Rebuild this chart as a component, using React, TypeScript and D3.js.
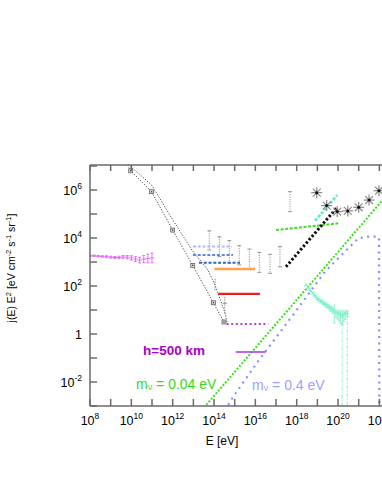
import React from 'react';
import * as d3 from 'd3';

// all values are log10 exponents
const purpleLogE = [8.0, 8.2, 8.4, 8.6, 8.8, 9.0, 9.2, 9.4, 9.6, 9.8, 10.0, 10.2, 10.4, 10.6, 10.8, 11.0];
const purpleLogJ = [3.26, 3.26, 3.24, 3.23, 3.22, 3.2, 3.19, 3.19, 3.21, 3.2, 3.17, 3.12, 3.08, 3.12, 3.15, 3.17];
const purpleErr = [0.03, 0.03, 0.03, 0.03, 0.04, 0.04, 0.04, 0.05, 0.06, 0.07, 0.09, 0.1, 0.12, 0.15, 0.18, 0.2];

const lineALogE = [9.7, 9.97, 10.98, 12.0, 12.97, 13.97, 14.48];
const lineALogJ = [7.25, 6.8, 5.93, 4.33, 2.86, 1.3, 0.5];
const lineBLogE = [9.75, 9.94, 10.98, 11.95, 12.93, 13.7, 14.05, 14.53, 14.63];
const lineBLogJ = [7.15, 7.0, 6.21, 4.83, 3.5, 2.67, 2.04, 0.88, 0.46];

const greyLogE = [13.77, 14.26, 14.74, 15.22, 15.71, 16.19, 16.71, 17.19, 17.68];
const greyHi = [4.3, 4.05, 3.89, 3.68, 3.54, 3.4, 3.32, 3.64, 5.93];
const greyLo = [3.5, 3.22, 2.96, 2.88, 2.71, 2.57, 2.53, 2.8, 5.1];

const bandRows = [
  { e0: 12.98, e1: 14.87, j: 3.65, color: '#b8b8f4' },
  { e0: 12.98, e1: 14.92, j: 3.29, color: '#6088e0' },
  { e0: 13.27, e1: 15.26, j: 2.97, color: '#3362c8' },
];

const orangeE = [14.02, 15.99];
const orangeJ = 2.71;
const redE = [14.2, 16.22];
const redJ = 1.67;
const purpleDotE = [14.61, 16.63];
const purpleDotJ = 0.42;
const purpleSolidE = [15.05, 16.5];
const purpleSolidJ = -0.75;

const blackDotE = [17.48, 19.96];
const blackDotJ = [2.8, 5.28];
const greenDashE = [17.0, 20.01];
const greenDashJ = [4.33, 4.61];
const cyanE = [18.89, 19.96];
const cyanJ = [4.72, 5.79];

const starLogE = [18.97, 19.45, 19.96, 20.47, 21.0, 21.5, 21.98];
const starLogJ = [5.89, 5.35, 5.1, 5.13, 5.28, 5.58, 5.97];

const greenModelE = [13.4, 22.6];
const greenModelJ = [-3.18, 6.02];
const lavModelE = [14.69, 14.93, 16.14, 17.76, 19.37, 20.98, 21.63, 21.98, 22.0];
const lavModelJ = [-2.96, -2.61, -1.13, 0.72, 2.6, 3.99, 4.08, 4.02, -3.5];

const aquaLogE = [18.45, 18.55, 18.62, 18.7, 18.78, 18.85, 18.93, 19.0, 19.08, 19.15, 19.22, 19.3, 19.38, 19.45, 19.52, 19.6, 19.68, 19.75, 19.82, 19.9, 19.98, 20.05, 20.12, 20.2, 20.28, 20.35, 20.45];
const aquaLogJ = [2.05, 1.95, 1.88, 1.8, 1.72, 1.64, 1.57, 1.5, 1.45, 1.4, 1.36, 1.31, 1.27, 1.22, 1.18, 1.12, 1.08, 1.02, 0.96, 0.9, 0.87, 0.84, 0.8, 0.78, 0.82, 0.86, 0.9];
const aquaErr = [0.04, 0.04, 0.05, 0.05, 0.05, 0.06, 0.06, 0.06, 0.07, 0.07, 0.08, 0.08, 0.09, 0.1, 0.1, 0.12, 0.13, 0.15, 0.5, 0.2, 0.25, 0.3, 0.35, 0.4, 0.3, 0.25, 0.2];
const aquaDropE = [20.2, 20.45];
const aquaDropTop = [0.8, 0.86];

const xLabelExp = [8, 10, 12, 14, 16, 18, 20, 22];
const yLabelExp = [-2, 0, 2, 4, 6];

const W = 382;
const H = 494;
const left = 90;
const top = 165;
const bottom = 406;

const x = d3.scaleLog().domain([1e8, 1e24]).range([left, left + 16 * 20.67]);
const y = d3.scaleLog().domain([1e-3, 1e7]).range([bottom, 166]);
const px = (e: number) => x(Math.pow(10, e));
const py = (j: number) => y(Math.pow(10, j));

const font = '"Liberation Sans", Arial, sans-serif';

const pathOf = (es: number[], js: number[]) =>
  d3.line<number>().x((_, i) => px(es[i])).y((_, i) => py(js[i]))(es) || '';

function Star({ cx, cy }: { cx: number; cy: number }) {
  const r = 5.5;
  const d = r * 0.72;
  return (
    <g stroke="#8a8a8a" strokeWidth={1.2}>
      <line x1={cx - r} y1={cy} x2={cx + r} y2={cy} />
      <line x1={cx} y1={cy - r} x2={cx} y2={cy + r} />
      <line x1={cx - d} y1={cy - d} x2={cx + d} y2={cy + d} />
      <line x1={cx - d} y1={cy + d} x2={cx + d} y2={cy - d} />
      <circle cx={cx} cy={cy} r={1.5} fill="#111" stroke="none" />
    </g>
  );
}

export default function App() {
  const xTickExp = d3.range(8, 24);
  const yTickExp = d3.range(-3, 8);
  return (
    <svg width={W} height={H} style={{ position: 'absolute', left: 0, top: 0, background: '#fff' }}>
      <defs>
        <clipPath id="plot">
          <rect x={left} y={top} width={W - left} height={bottom - top} />
        </clipPath>
      </defs>

      <g clipPath="url(#plot)">
        {/* neutrino model lines */}
        <path d={pathOf(greenModelE, greenModelJ)} fill="none" stroke="#3ae01c" strokeWidth={2} strokeDasharray="2,1.6" />
        <path d={pathOf(lavModelE, lavModelJ)} fill="none" stroke="#8c8cff" strokeWidth={2.2} strokeDasharray="2,4.5" />

        {/* purple low-energy data */}
        {purpleLogE.map((e, i) => {
          const cx = px(e);
          const cy = py(purpleLogJ[i]);
          const y0 = py(purpleLogJ[i] + purpleErr[i]);
          const y1 = py(purpleLogJ[i] - purpleErr[i]);
          return (
            <g key={'p' + i} stroke="#dc66ee" strokeWidth={0.9}>
              <line x1={cx} y1={y0} x2={cx} y2={y1} />
              <line x1={cx - 1.5} y1={y0} x2={cx + 1.5} y2={y0} />
              <line x1={cx - 1.5} y1={y1} x2={cx + 1.5} y2={y1} />
              <line x1={cx - 2.2} y1={cy} x2={cx + 2.2} y2={cy} />
            </g>
          );
        })}

        {/* black dotted spectra */}
        <path d={pathOf(lineALogE, lineALogJ)} fill="none" stroke="#555" strokeWidth={1} strokeDasharray="1.3,1.5" />
        <path d={pathOf(lineBLogE, lineBLogJ)} fill="none" stroke="#555" strokeWidth={1} strokeDasharray="1.3,1.5" />
        {lineALogE.slice(1).map((e, i) => (
          <g key={'sq' + i}>
            <rect x={px(e) - 2} y={py(lineALogJ[i + 1]) - 2} width={4} height={4}
              fill="#d8d8d8" stroke="#555" strokeWidth={0.7} />
            <circle cx={px(e)} cy={py(lineALogJ[i + 1])} r={0.8} fill="#444" />
          </g>
        ))}
        <g stroke="#888" strokeWidth={0.9} strokeDasharray="1.5,1">
          <line x1={px(14.52)} y1={py(1.55)} x2={px(14.52)} y2={py(0.85)} />
          <line x1={px(14.05)} y1={py(2.3)} x2={px(14.05)} y2={py(1.8)} />
        </g>
        <line x1={px(14.52) - 2} y1={py(1.28)} x2={px(14.52) + 2} y2={py(1.28)} stroke="#888" />

        {/* grey upper/lower bars */}
        {greyLogE.map((e, i) => {
          const cx = px(e);
          const y0 = py(greyHi[i]);
          const y1 = py(greyLo[i]);
          return (
            <g key={'g' + i} stroke="#8a8a8a" strokeWidth={0.9}>
              <line x1={cx} y1={y0} x2={cx} y2={y1} strokeDasharray="1.2,1.2" />
              <line x1={cx - 2} y1={y0} x2={cx + 2} y2={y0} />
              <line x1={cx - 2} y1={y1} x2={cx + 2} y2={y1} />
            </g>
          );
        })}

        {bandRows.map((r, i) => (
          <line key={'b' + i} x1={px(r.e0)} x2={px(r.e1)} y1={py(r.j)} y2={py(r.j)}
            stroke={r.color} strokeWidth={2} strokeDasharray="3,1.8" />
        ))}

        <line x1={px(orangeE[0])} x2={px(orangeE[1])} y1={py(orangeJ)} y2={py(orangeJ)} stroke="#ffa24a" strokeWidth={2.4} />
        <line x1={px(redE[0])} x2={px(redE[1])} y1={py(redJ)} y2={py(redJ)} stroke="#ee1c1c" strokeWidth={2.4} />
        <line x1={px(purpleDotE[0])} x2={px(purpleDotE[1])} y1={py(purpleDotJ)} y2={py(purpleDotJ)}
          stroke="#c038e0" strokeWidth={2} strokeDasharray="2,2.6" />
        <line x1={px(purpleSolidE[0])} x2={px(purpleSolidE[1])} y1={py(purpleSolidJ)} y2={py(purpleSolidJ)}
          stroke="#a640f0" strokeWidth={1.6} />

        <path d={pathOf(greenDashE, greenDashJ)} fill="none" stroke="#40dc20" strokeWidth={2} strokeDasharray="3,1.6" />
        <path d={pathOf(cyanE, cyanJ)} fill="none" stroke="#52ecd0" strokeWidth={2.6} strokeDasharray="3,1.6" />
        <path d={pathOf(blackDotE, blackDotJ)} fill="none" stroke="#111" strokeWidth={3} strokeDasharray="2.4,2" />

        {/* aquamarine high-energy data */}
        {aquaDropE.map((e, i) => (
          <line key={'ad' + i} x1={px(e)} x2={px(e)} y1={py(aquaDropTop[i])} y2={bottom}
            stroke="#80f0c8" strokeWidth={0.9} strokeDasharray="4,1.5,1,1.5" />
        ))}
        {aquaLogE.map((e, i) => {
          const cx = px(e);
          const cy = py(aquaLogJ[i]);
          const y0 = py(aquaLogJ[i] + aquaErr[i] * 0.6);
          const y1 = py(aquaLogJ[i] - aquaErr[i]);
          return (
            <g key={'a' + i} stroke="#7aeec6" strokeWidth={0.8}>
              <line x1={cx} y1={y0} x2={cx} y2={y1} />
              <line x1={cx - 1.5} y1={y1} x2={cx + 1.5} y2={y1} />
              <line x1={cx - 2} y1={cy - 2} x2={cx + 2} y2={cy + 2} />
              <line x1={cx - 2} y1={cy + 2} x2={cx + 2} y2={cy - 2} />
            </g>
          );
        })}

        {starLogE.map((e, i) => (
          <Star key={'s' + i} cx={px(e)} cy={py(starLogJ[i])} />
        ))}
      </g>

      {/* axes */}
      <g stroke="#6a6a6a" strokeWidth={1.5} fill="none">
        <line x1={left} y1={top} x2={W} y2={top} />
        <line x1={left} y1={bottom} x2={W} y2={bottom} />
        <line x1={left} y1={top} x2={left} y2={bottom} />
        {xTickExp.map((k) => (
          <g key={'xt' + k}>
            <line x1={px(k)} x2={px(k)} y1={bottom} y2={bottom - 7} />
            <line x1={px(k)} x2={px(k)} y1={top} y2={top + 6} />
          </g>
        ))}
        {yTickExp.map((k) => (
          <line key={'yt' + k} x1={left} x2={left + 7} y1={py(k)} y2={py(k)} />
        ))}
      </g>

      <g fontFamily={font} fill="#000">
        {xLabelExp.map((k) => (
          <text key={'xl' + k} x={px(k)} y={425} fontSize={12.5} textAnchor="middle">
            10<tspan fontSize={8.5} dy={-6}>{k}</tspan>
          </text>
        ))}
        {yLabelExp.map((k) => (
          <text key={'yl' + k} x={82} y={py(k) + 5} fontSize={12.5} textAnchor="end">
            {k === 0 ? '1' : (<>10<tspan fontSize={8.5} dy={-6}>{k}</tspan></>)}
          </text>
        ))}
        <text x={222} y={445} fontSize={12} textAnchor="middle">E [eV]</text>
        <text transform="translate(15,268) rotate(-90)" fontSize={10.5} textAnchor="middle">
          j(E) E<tspan fontSize={7.5} dy={-4}>2</tspan>
          <tspan dy={4}> [eV cm</tspan><tspan fontSize={7.5} dy={-4}>-2</tspan>
          <tspan dy={4}> s</tspan><tspan fontSize={7.5} dy={-4}>-1</tspan>
          <tspan dy={4}> sr</tspan><tspan fontSize={7.5} dy={-4}>-1</tspan>
          <tspan dy={4}>]</tspan>
        </text>

        <text x={174} y={355} fontSize={13.5} fontWeight="bold" fill="#a800cc" textAnchor="middle">h=500 km</text>
        <text x={136} y={389} fontSize={14} fill="#33dd11">
          m<tspan fontSize={9} dy={1}>ν</tspan><tspan dy={-1}> = 0.04 eV</tspan>
        </text>
        <text x={252} y={390} fontSize={14} fill="#a0a0ff">
          m<tspan fontSize={9} dy={1}>ν</tspan><tspan dy={-1}> = 0.4 eV</tspan>
        </text>
      </g>
    </svg>
  );
}
